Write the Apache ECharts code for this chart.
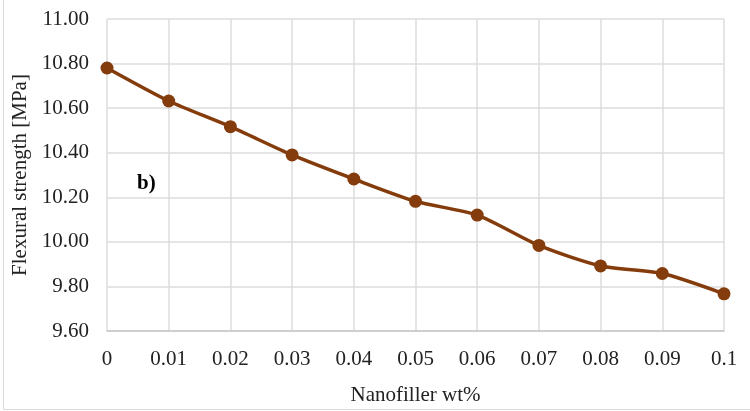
<!DOCTYPE html>
<html><head><meta charset="utf-8">
<script src="https://cdn.jsdelivr.net/npm/echarts@6/dist/echarts.min.js"></script>
<style>html,body{margin:0;padding:0;background:#fff}#c{width:750px;height:411px}</style>
</head><body><div id="c"></div>
<script>
const categories = ['0','0.01','0.02','0.03','0.04','0.05','0.06','0.07','0.08','0.09','0.1'];
const strength = [10.78, 10.632, 10.517, 10.39, 10.282, 10.182, 10.12, 9.984, 9.892, 9.858, 9.767];
const yTicks = {min: 9.6, max: 11.0, interval: 0.2};
const xName = 'Nanofiller wt%';
const yName = 'Flexural strength [MPa]';
const panelLabel = 'b)';

const font = '"Liberation Serif","Times New Roman",serif';
const chart = echarts.init(document.getElementById('c'));
chart.setOption({
  animation: false,
  grid: {left: 107, right: 26, top: 19, bottom: 77, containLabel: false},
  graphic: [
    {type: 'rect', shape: {x: 3.5, y: -2, width: 760, height: 411.5}, style: {fill: 'none', stroke: '#d9d9d9', lineWidth: 1}, silent: true},
    {type: 'text', left: 137, top: 173, style: {text: panelLabel, font: 'bold 21px ' + font, fill: '#000'}}
  ],
  xAxis: {
    type: 'category', data: categories, boundaryGap: false,
    name: xName, nameLocation: 'middle', nameGap: 54,
    nameTextStyle: {fontFamily: font, fontSize: 21, color: '#222'},
    axisLine: {lineStyle: {color: '#c8c8c8', width: 1.5}},
    axisTick: {show: false},
    axisLabel: {fontFamily: font, fontSize: 21, color: '#222', margin: 18},
    splitLine: {show: true, lineStyle: {color: '#dcdcdc', width: 1.5}}
  },
  yAxis: {
    type: 'value', min: yTicks.min, max: yTicks.max, interval: yTicks.interval,
    name: yName, nameLocation: 'middle', nameGap: 72,
    nameTextStyle: {fontFamily: font, fontSize: 21, color: '#222'},
    axisLine: {show: false}, axisTick: {show: false},
    axisLabel: {fontFamily: font, fontSize: 21, color: '#222', margin: 18, formatter: v => v.toFixed(2)},
    splitLine: {lineStyle: {color: '#dcdcdc', width: 1.5}}
  },
  series: [{
    type: 'line', data: strength, smooth: 0.25,
    symbol: 'circle', symbolSize: 13,
    lineStyle: {color: '#843c0c', width: 3.5},
    itemStyle: {color: '#843c0c'}
  }]
});
</script></body></html>
